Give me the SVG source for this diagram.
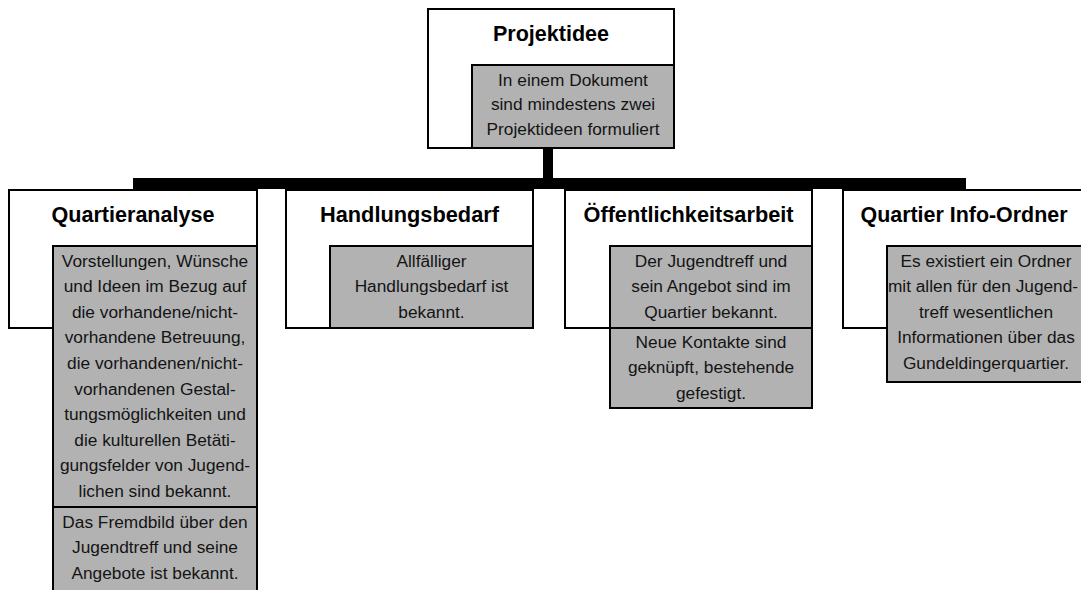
<svg xmlns="http://www.w3.org/2000/svg" width="1081" height="590" viewBox="0 0 1081 590">
<style>
.box{fill:#ffffff;stroke:#000000;stroke-width:2}
.gbox{fill:#b2b2b2;stroke:#000000;stroke-width:2}
.title{font-family:"Liberation Sans",Arial,sans-serif;font-size:22px;font-weight:bold;fill:#000000;text-anchor:middle}
.txt{font-family:"Liberation Sans",Arial,sans-serif;font-size:17.3px;fill:#141414;text-anchor:middle}
.conn{stroke:#000000;fill:none}
</style>
<rect width="1081" height="590" fill="#ffffff"/>
<g id="connectors">
<path class="conn" d="M548 148 V180" stroke-width="10"/>
<path class="conn" d="M133 183.5 H966" stroke-width="11"/>
</g>
<g id="node-projektidee">
<rect class="box" x="428" y="9" width="246" height="139"/>
<text class="title" x="551" y="41" textLength="116" lengthAdjust="spacingAndGlyphs">Projektidee</text>
<rect class="gbox" x="472" y="65" width="202" height="83"/>
<text class="txt" x="573" y="85.5">In einem Dokument</text>
<text class="txt" x="573" y="110">sind mindestens zwei</text>
<text class="txt" x="573" y="134.5">Projektideen formuliert</text>
</g>
<g id="node-quartieranalyse">
<rect class="box" x="9" y="190" width="248" height="138"/>
<text class="title" x="133" y="222" textLength="163" lengthAdjust="spacingAndGlyphs">Quartieranalyse</text>
<rect class="gbox" x="53" y="246" width="204" height="261"/>
<text class="txt" x="155" y="266.5">Vorstellungen, Wünsche</text>
<text class="txt" x="155" y="292.1">und Ideen im Bezug auf</text>
<text class="txt" x="155" y="317.7">die vorhandene/nicht-</text>
<text class="txt" x="155" y="343.3">vorhandene Betreuung,</text>
<text class="txt" x="155" y="368.9">die vorhandenen/nicht-</text>
<text class="txt" x="155" y="394.5">vorhandenen Gestal-</text>
<text class="txt" x="155" y="420.1">tungsmöglichkeiten und</text>
<text class="txt" x="155" y="445.7">die kulturellen Betäti-</text>
<text class="txt" x="155" y="471.3">gungsfelder von Jugend-</text>
<text class="txt" x="155" y="496.9">lichen sind bekannt.</text>
<rect class="gbox" x="53" y="507" width="204" height="90"/>
<text class="txt" x="155" y="527.5">Das Fremdbild über den</text>
<text class="txt" x="155" y="553">Jugendtreff und seine</text>
<text class="txt" x="155" y="578.5">Angebote ist bekannt.</text>
</g>
<g id="node-handlungsbedarf">
<rect class="box" x="286" y="190" width="247" height="138"/>
<text class="title" x="409.5" y="222" textLength="179" lengthAdjust="spacingAndGlyphs">Handlungsbedarf</text>
<rect class="gbox" x="330" y="246" width="203" height="82"/>
<text class="txt" x="431.5" y="266.5">Allfälliger</text>
<text class="txt" x="431.5" y="292">Handlungsbedarf ist</text>
<text class="txt" x="431.5" y="317.5">bekannt.</text>
</g>
<g id="node-oeffentlichkeitsarbeit">
<rect class="box" x="565" y="190" width="247" height="138"/>
<text class="title" x="688.5" y="222" textLength="210" lengthAdjust="spacingAndGlyphs">Öffentlichkeitsarbeit</text>
<rect class="gbox" x="610" y="246" width="202" height="82"/>
<text class="txt" x="711" y="266.5">Der Jugendtreff und</text>
<text class="txt" x="711" y="292">sein Angebot sind im</text>
<text class="txt" x="711" y="317.5">Quartier bekannt.</text>
<rect class="gbox" x="610" y="328" width="202" height="80"/>
<text class="txt" x="711" y="347.5">Neue Kontakte sind</text>
<text class="txt" x="711" y="373">geknüpft, bestehende</text>
<text class="txt" x="711" y="398.5">gefestigt.</text>
</g>
<g id="node-quartier-info-ordner">
<rect class="box" x="843" y="190" width="247" height="138"/>
<text class="title" x="964" y="222" textLength="207" lengthAdjust="spacingAndGlyphs">Quartier Info-Ordner</text>
<rect class="gbox" x="887" y="246" width="203" height="136"/>
<text class="txt" x="986" y="266.5">Es existiert ein Ordner</text>
<text class="txt" x="983" y="292">mit allen für den Jugend-</text>
<text class="txt" x="986" y="317.5">treff wesentlichen</text>
<text class="txt" x="986" y="343">Informationen über das</text>
<text class="txt" x="986" y="368.5">Gundeldingerquartier.</text>
</g>
</svg>
